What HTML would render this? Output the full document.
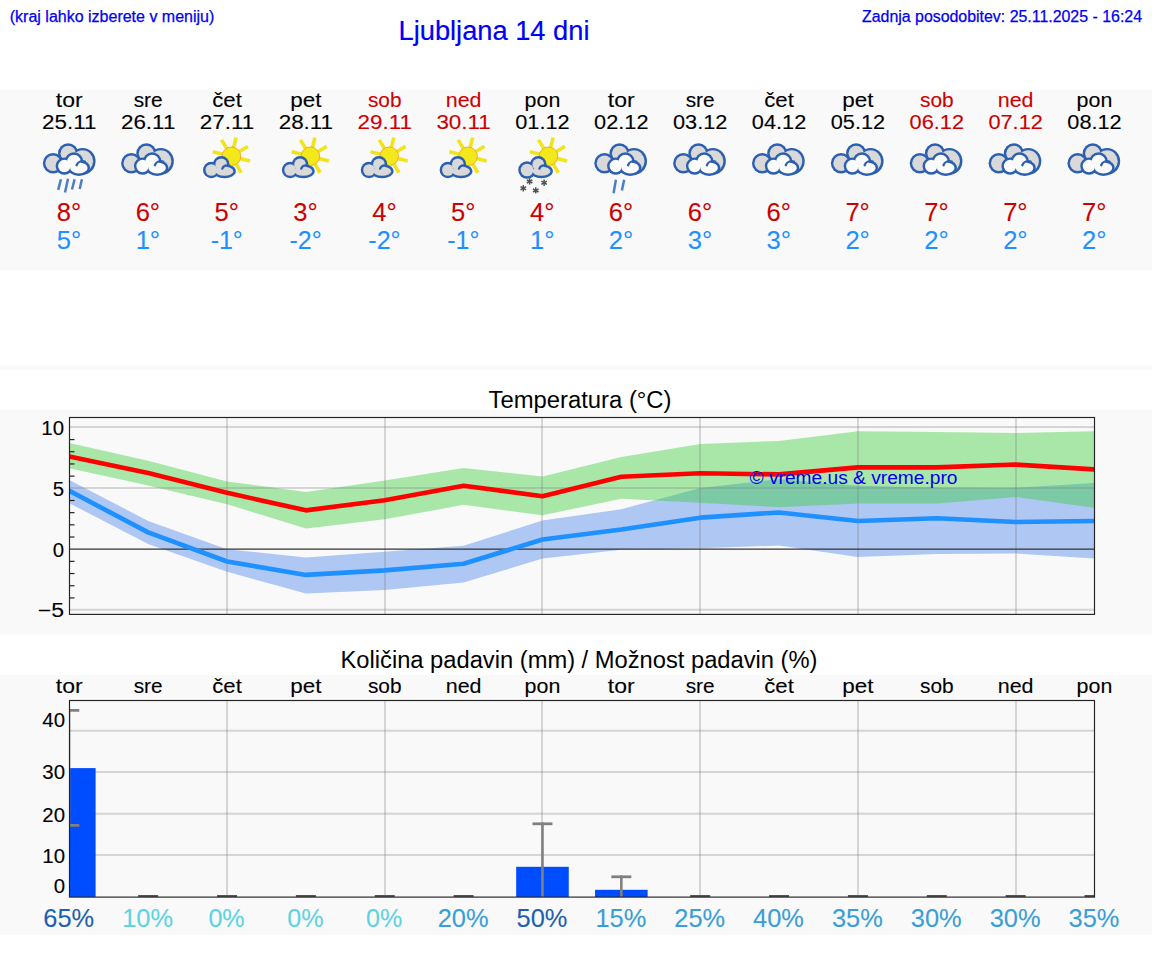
<!DOCTYPE html><html><head><meta charset="utf-8"><style>html,body{margin:0;padding:0;background:#fff;width:1152px;height:975px;overflow:hidden}svg{display:block;font-family:"Liberation Sans",sans-serif}</style></head><body>
<svg width="1152" height="975" viewBox="0 0 1152 975">
<defs>
<clipPath id="tc"><rect x="69.5" y="417.5" width="1024.5" height="196.5"/></clipPath>
<clipPath id="pc"><rect x="69.5" y="700.5" width="1024.5" height="196.5"/></clipPath>
</defs>
<rect x="0" y="90" width="1152" height="180" fill="#f9f9f9"/>
<rect x="0" y="365" width="1152" height="5" fill="#f9f9f9"/>
<rect x="0" y="410" width="1152" height="225" fill="#f9f9f9"/>
<rect x="0" y="675" width="1152" height="260" fill="#f9f9f9"/>
<text x="9.80" y="21.50" font-size="16" fill="#0000f5" stroke="#0000f5" stroke-width="0.25" text-anchor="start" textLength="204.50" lengthAdjust="spacingAndGlyphs">(kraj lahko izberete v meniju)</text>
<text x="398.50" y="39.60" font-size="27" fill="#0000f5" stroke="#0000f5" stroke-width="0.2" text-anchor="start" textLength="191.00" lengthAdjust="spacingAndGlyphs">Ljubljana 14 dni</text>
<text x="1142.00" y="22.00" font-size="16" fill="#0000f5" stroke="#0000f5" stroke-width="0.25" text-anchor="end" textLength="280.00" lengthAdjust="spacingAndGlyphs">Zadnja posodobitev: 25.11.2025 - 16:24</text>
<text x="69.30" y="107.00" font-size="19.57" fill="#000" stroke="#000" stroke-width="0.1" text-anchor="middle" textLength="26.89" lengthAdjust="spacingAndGlyphs">tor</text>
<text x="69.30" y="129.00" font-size="19.38" fill="#000" stroke="#000" stroke-width="0.1" text-anchor="middle" textLength="54.40" lengthAdjust="spacingAndGlyphs">25.11</text>
<text x="69.00" y="221.00" font-size="25.50" fill="#cc0000" stroke="#cc0000" stroke-width="0.1" text-anchor="middle" textLength="24.43" lengthAdjust="spacingAndGlyphs">8°</text>
<text x="69.00" y="249.00" font-size="25.50" fill="#1e90ff" stroke="#1e90ff" stroke-width="0.1" text-anchor="middle" textLength="24.43" lengthAdjust="spacingAndGlyphs">5°</text>
<text x="148.16" y="107.00" font-size="19.57" fill="#000" stroke="#000" stroke-width="0.1" text-anchor="middle" textLength="28.98" lengthAdjust="spacingAndGlyphs">sre</text>
<text x="148.16" y="129.00" font-size="19.38" fill="#000" stroke="#000" stroke-width="0.1" text-anchor="middle" textLength="54.40" lengthAdjust="spacingAndGlyphs">26.11</text>
<text x="147.86" y="221.00" font-size="25.50" fill="#cc0000" stroke="#cc0000" stroke-width="0.1" text-anchor="middle" textLength="24.43" lengthAdjust="spacingAndGlyphs">6°</text>
<text x="147.86" y="249.00" font-size="25.50" fill="#1e90ff" stroke="#1e90ff" stroke-width="0.1" text-anchor="middle" textLength="24.43" lengthAdjust="spacingAndGlyphs">1°</text>
<text x="227.02" y="107.00" font-size="19.57" fill="#000" stroke="#000" stroke-width="0.1" text-anchor="middle" textLength="29.59" lengthAdjust="spacingAndGlyphs">čet</text>
<text x="227.02" y="129.00" font-size="19.38" fill="#000" stroke="#000" stroke-width="0.1" text-anchor="middle" textLength="54.40" lengthAdjust="spacingAndGlyphs">27.11</text>
<text x="226.72" y="221.00" font-size="25.50" fill="#cc0000" stroke="#cc0000" stroke-width="0.1" text-anchor="middle" textLength="24.43" lengthAdjust="spacingAndGlyphs">5°</text>
<text x="226.72" y="249.00" font-size="25.50" fill="#1e90ff" stroke="#1e90ff" stroke-width="0.1" text-anchor="middle" textLength="32.19" lengthAdjust="spacingAndGlyphs">-1°</text>
<text x="305.88" y="107.00" font-size="19.57" fill="#000" stroke="#000" stroke-width="0.1" text-anchor="middle" textLength="31.20" lengthAdjust="spacingAndGlyphs">pet</text>
<text x="305.88" y="129.00" font-size="19.38" fill="#000" stroke="#000" stroke-width="0.1" text-anchor="middle" textLength="54.40" lengthAdjust="spacingAndGlyphs">28.11</text>
<text x="305.58" y="221.00" font-size="25.50" fill="#cc0000" stroke="#cc0000" stroke-width="0.1" text-anchor="middle" textLength="24.43" lengthAdjust="spacingAndGlyphs">3°</text>
<text x="305.58" y="249.00" font-size="25.50" fill="#1e90ff" stroke="#1e90ff" stroke-width="0.1" text-anchor="middle" textLength="32.19" lengthAdjust="spacingAndGlyphs">-2°</text>
<text x="384.75" y="107.00" font-size="19.57" fill="#cc0000" stroke="#cc0000" stroke-width="0.1" text-anchor="middle" textLength="33.58" lengthAdjust="spacingAndGlyphs">sob</text>
<text x="384.75" y="129.00" font-size="19.38" fill="#cc0000" stroke="#cc0000" stroke-width="0.1" text-anchor="middle" textLength="54.40" lengthAdjust="spacingAndGlyphs">29.11</text>
<text x="384.45" y="221.00" font-size="25.50" fill="#cc0000" stroke="#cc0000" stroke-width="0.1" text-anchor="middle" textLength="24.43" lengthAdjust="spacingAndGlyphs">4°</text>
<text x="384.45" y="249.00" font-size="25.50" fill="#1e90ff" stroke="#1e90ff" stroke-width="0.1" text-anchor="middle" textLength="32.19" lengthAdjust="spacingAndGlyphs">-2°</text>
<text x="463.61" y="107.00" font-size="19.57" fill="#cc0000" stroke="#cc0000" stroke-width="0.1" text-anchor="middle" textLength="35.79" lengthAdjust="spacingAndGlyphs">ned</text>
<text x="463.61" y="129.00" font-size="19.38" fill="#cc0000" stroke="#cc0000" stroke-width="0.1" text-anchor="middle" textLength="54.40" lengthAdjust="spacingAndGlyphs">30.11</text>
<text x="463.31" y="221.00" font-size="25.50" fill="#cc0000" stroke="#cc0000" stroke-width="0.1" text-anchor="middle" textLength="24.43" lengthAdjust="spacingAndGlyphs">5°</text>
<text x="463.31" y="249.00" font-size="25.50" fill="#1e90ff" stroke="#1e90ff" stroke-width="0.1" text-anchor="middle" textLength="32.19" lengthAdjust="spacingAndGlyphs">-1°</text>
<text x="542.47" y="107.00" font-size="19.57" fill="#000" stroke="#000" stroke-width="0.1" text-anchor="middle" textLength="35.73" lengthAdjust="spacingAndGlyphs">pon</text>
<text x="542.47" y="129.00" font-size="19.38" fill="#000" stroke="#000" stroke-width="0.1" text-anchor="middle" textLength="54.40" lengthAdjust="spacingAndGlyphs">01.12</text>
<text x="542.17" y="221.00" font-size="25.50" fill="#cc0000" stroke="#cc0000" stroke-width="0.1" text-anchor="middle" textLength="24.43" lengthAdjust="spacingAndGlyphs">4°</text>
<text x="542.17" y="249.00" font-size="25.50" fill="#1e90ff" stroke="#1e90ff" stroke-width="0.1" text-anchor="middle" textLength="24.43" lengthAdjust="spacingAndGlyphs">1°</text>
<text x="621.33" y="107.00" font-size="19.57" fill="#000" stroke="#000" stroke-width="0.1" text-anchor="middle" textLength="26.89" lengthAdjust="spacingAndGlyphs">tor</text>
<text x="621.33" y="129.00" font-size="19.38" fill="#000" stroke="#000" stroke-width="0.1" text-anchor="middle" textLength="54.40" lengthAdjust="spacingAndGlyphs">02.12</text>
<text x="621.03" y="221.00" font-size="25.50" fill="#cc0000" stroke="#cc0000" stroke-width="0.1" text-anchor="middle" textLength="24.43" lengthAdjust="spacingAndGlyphs">6°</text>
<text x="621.03" y="249.00" font-size="25.50" fill="#1e90ff" stroke="#1e90ff" stroke-width="0.1" text-anchor="middle" textLength="24.43" lengthAdjust="spacingAndGlyphs">2°</text>
<text x="700.19" y="107.00" font-size="19.57" fill="#000" stroke="#000" stroke-width="0.1" text-anchor="middle" textLength="28.98" lengthAdjust="spacingAndGlyphs">sre</text>
<text x="700.19" y="129.00" font-size="19.38" fill="#000" stroke="#000" stroke-width="0.1" text-anchor="middle" textLength="54.40" lengthAdjust="spacingAndGlyphs">03.12</text>
<text x="699.89" y="221.00" font-size="25.50" fill="#cc0000" stroke="#cc0000" stroke-width="0.1" text-anchor="middle" textLength="24.43" lengthAdjust="spacingAndGlyphs">6°</text>
<text x="699.89" y="249.00" font-size="25.50" fill="#1e90ff" stroke="#1e90ff" stroke-width="0.1" text-anchor="middle" textLength="24.43" lengthAdjust="spacingAndGlyphs">3°</text>
<text x="779.05" y="107.00" font-size="19.57" fill="#000" stroke="#000" stroke-width="0.1" text-anchor="middle" textLength="29.59" lengthAdjust="spacingAndGlyphs">čet</text>
<text x="779.05" y="129.00" font-size="19.38" fill="#000" stroke="#000" stroke-width="0.1" text-anchor="middle" textLength="54.40" lengthAdjust="spacingAndGlyphs">04.12</text>
<text x="778.75" y="221.00" font-size="25.50" fill="#cc0000" stroke="#cc0000" stroke-width="0.1" text-anchor="middle" textLength="24.43" lengthAdjust="spacingAndGlyphs">6°</text>
<text x="778.75" y="249.00" font-size="25.50" fill="#1e90ff" stroke="#1e90ff" stroke-width="0.1" text-anchor="middle" textLength="24.43" lengthAdjust="spacingAndGlyphs">3°</text>
<text x="857.92" y="107.00" font-size="19.57" fill="#000" stroke="#000" stroke-width="0.1" text-anchor="middle" textLength="31.20" lengthAdjust="spacingAndGlyphs">pet</text>
<text x="857.92" y="129.00" font-size="19.38" fill="#000" stroke="#000" stroke-width="0.1" text-anchor="middle" textLength="54.40" lengthAdjust="spacingAndGlyphs">05.12</text>
<text x="857.62" y="221.00" font-size="25.50" fill="#cc0000" stroke="#cc0000" stroke-width="0.1" text-anchor="middle" textLength="24.43" lengthAdjust="spacingAndGlyphs">7°</text>
<text x="857.62" y="249.00" font-size="25.50" fill="#1e90ff" stroke="#1e90ff" stroke-width="0.1" text-anchor="middle" textLength="24.43" lengthAdjust="spacingAndGlyphs">2°</text>
<text x="936.78" y="107.00" font-size="19.57" fill="#cc0000" stroke="#cc0000" stroke-width="0.1" text-anchor="middle" textLength="33.58" lengthAdjust="spacingAndGlyphs">sob</text>
<text x="936.78" y="129.00" font-size="19.38" fill="#cc0000" stroke="#cc0000" stroke-width="0.1" text-anchor="middle" textLength="54.40" lengthAdjust="spacingAndGlyphs">06.12</text>
<text x="936.48" y="221.00" font-size="25.50" fill="#cc0000" stroke="#cc0000" stroke-width="0.1" text-anchor="middle" textLength="24.43" lengthAdjust="spacingAndGlyphs">7°</text>
<text x="936.48" y="249.00" font-size="25.50" fill="#1e90ff" stroke="#1e90ff" stroke-width="0.1" text-anchor="middle" textLength="24.43" lengthAdjust="spacingAndGlyphs">2°</text>
<text x="1015.64" y="107.00" font-size="19.57" fill="#cc0000" stroke="#cc0000" stroke-width="0.1" text-anchor="middle" textLength="35.79" lengthAdjust="spacingAndGlyphs">ned</text>
<text x="1015.64" y="129.00" font-size="19.38" fill="#cc0000" stroke="#cc0000" stroke-width="0.1" text-anchor="middle" textLength="54.40" lengthAdjust="spacingAndGlyphs">07.12</text>
<text x="1015.34" y="221.00" font-size="25.50" fill="#cc0000" stroke="#cc0000" stroke-width="0.1" text-anchor="middle" textLength="24.43" lengthAdjust="spacingAndGlyphs">7°</text>
<text x="1015.34" y="249.00" font-size="25.50" fill="#1e90ff" stroke="#1e90ff" stroke-width="0.1" text-anchor="middle" textLength="24.43" lengthAdjust="spacingAndGlyphs">2°</text>
<text x="1094.50" y="107.00" font-size="19.57" fill="#000" stroke="#000" stroke-width="0.1" text-anchor="middle" textLength="35.73" lengthAdjust="spacingAndGlyphs">pon</text>
<text x="1094.50" y="129.00" font-size="19.38" fill="#000" stroke="#000" stroke-width="0.1" text-anchor="middle" textLength="54.40" lengthAdjust="spacingAndGlyphs">08.12</text>
<text x="1094.20" y="221.00" font-size="25.50" fill="#cc0000" stroke="#cc0000" stroke-width="0.1" text-anchor="middle" textLength="24.43" lengthAdjust="spacingAndGlyphs">7°</text>
<text x="1094.20" y="249.00" font-size="25.50" fill="#1e90ff" stroke="#1e90ff" stroke-width="0.1" text-anchor="middle" textLength="24.43" lengthAdjust="spacingAndGlyphs">2°</text>
<g transform="translate(-77.95,0)"><circle cx="131.00" cy="163.30" r="10.20" fill="#2c5fb0"/><circle cx="146.10" cy="153.30" r="10.10" fill="#2c5fb0"/><ellipse cx="160.50" cy="161.30" rx="13.00" ry="13.40" fill="#2c5fb0"/><circle cx="131.00" cy="163.30" r="7.75" fill="#d9d9d9"/><circle cx="146.10" cy="153.30" r="7.65" fill="#d9d9d9"/><ellipse cx="160.50" cy="161.30" rx="10.55" ry="10.95" fill="#d9d9d9"/><circle cx="142.30" cy="166.10" r="8.70" fill="#2c5fb0"/><circle cx="151.90" cy="161.50" r="9.30" fill="#2c5fb0"/><ellipse cx="156.80" cy="167.95" rx="11.20" ry="7.95" fill="#2c5fb0"/><circle cx="142.30" cy="166.10" r="6.25" fill="#fbfbfb"/><circle cx="151.90" cy="161.50" r="6.85" fill="#fbfbfb"/><ellipse cx="156.80" cy="167.95" rx="8.75" ry="5.50" fill="#fbfbfb"/><path d="M154.6,165.2 C155.6,161.8 159.2,160.6 162.8,161.6" fill="none" stroke="#2c5fb0" stroke-width="2.4" stroke-linecap="round"/></g>
<line x1="60.90" y1="179.2" x2="58.20" y2="189.9" stroke="#4b7fc4" stroke-width="2.5"/>
<line x1="68.00" y1="178.8" x2="65.00" y2="192.5" stroke="#4b7fc4" stroke-width="2.5"/>
<line x1="74.60" y1="179.2" x2="72.00" y2="189.5" stroke="#4b7fc4" stroke-width="2.5"/>
<line x1="81.90" y1="179.2" x2="79.70" y2="189" stroke="#4b7fc4" stroke-width="2.5"/>
<g transform="translate(0.31,0)"><circle cx="131.00" cy="163.30" r="10.20" fill="#2c5fb0"/><circle cx="146.10" cy="153.30" r="10.10" fill="#2c5fb0"/><ellipse cx="160.50" cy="161.30" rx="13.00" ry="13.40" fill="#2c5fb0"/><circle cx="131.00" cy="163.30" r="7.75" fill="#d9d9d9"/><circle cx="146.10" cy="153.30" r="7.65" fill="#d9d9d9"/><ellipse cx="160.50" cy="161.30" rx="10.55" ry="10.95" fill="#d9d9d9"/><circle cx="142.30" cy="166.10" r="8.70" fill="#2c5fb0"/><circle cx="151.90" cy="161.50" r="9.30" fill="#2c5fb0"/><ellipse cx="156.80" cy="167.95" rx="11.20" ry="7.95" fill="#2c5fb0"/><circle cx="142.30" cy="166.10" r="6.25" fill="#fbfbfb"/><circle cx="151.90" cy="161.50" r="6.85" fill="#fbfbfb"/><ellipse cx="156.80" cy="167.95" rx="8.75" ry="5.50" fill="#fbfbfb"/><path d="M154.6,165.2 C155.6,161.8 159.2,160.6 162.8,161.6" fill="none" stroke="#2c5fb0" stroke-width="2.4" stroke-linecap="round"/></g>
<g><line x1="233.31" y1="148.73" x2="236.07" y2="137.67" stroke="#f0e41c" stroke-width="3.6"/><line x1="238.11" y1="152.28" x2="247.88" y2="146.41" stroke="#f0e41c" stroke-width="3.6"/><line x1="238.99" y1="158.19" x2="250.05" y2="160.94" stroke="#f0e41c" stroke-width="3.6"/><line x1="235.44" y1="162.99" x2="241.31" y2="172.76" stroke="#f0e41c" stroke-width="3.6"/><line x1="229.54" y1="163.87" x2="226.78" y2="174.93" stroke="#f0e41c" stroke-width="3.6"/><line x1="224.74" y1="160.32" x2="214.97" y2="166.19" stroke="#f0e41c" stroke-width="3.6"/><line x1="223.85" y1="154.41" x2="212.79" y2="151.66" stroke="#f0e41c" stroke-width="3.6"/><line x1="227.41" y1="149.61" x2="221.53" y2="139.84" stroke="#f0e41c" stroke-width="3.6"/><circle cx="231.42" cy="156.3" r="9.3" fill="#f2e81a" stroke="#f5aa30" stroke-width="1"/><g transform="translate(0.32,0)"><circle cx="211.00" cy="170.00" r="8.30" fill="#2c5fb0"/><circle cx="220.90" cy="164.40" r="8.30" fill="#2c5fb0"/><ellipse cx="224.10" cy="171.20" rx="11.40" ry="7.00" fill="#2c5fb0"/><circle cx="211.00" cy="170.00" r="5.85" fill="#d9d9d9"/><circle cx="220.90" cy="164.40" r="5.85" fill="#d9d9d9"/><ellipse cx="224.10" cy="171.20" rx="8.95" ry="4.55" fill="#d9d9d9"/><path d="M222,168.6 C223,166.2 225.5,165 228.5,165.6" fill="none" stroke="#2c5fb0" stroke-width="2.3" stroke-linecap="round"/></g></g>
<g><line x1="312.17" y1="148.73" x2="314.93" y2="137.67" stroke="#f0e41c" stroke-width="3.6"/><line x1="316.97" y1="152.28" x2="326.74" y2="146.41" stroke="#f0e41c" stroke-width="3.6"/><line x1="317.85" y1="158.19" x2="328.91" y2="160.94" stroke="#f0e41c" stroke-width="3.6"/><line x1="314.30" y1="162.99" x2="320.17" y2="172.76" stroke="#f0e41c" stroke-width="3.6"/><line x1="308.40" y1="163.87" x2="305.64" y2="174.93" stroke="#f0e41c" stroke-width="3.6"/><line x1="303.60" y1="160.32" x2="293.83" y2="166.19" stroke="#f0e41c" stroke-width="3.6"/><line x1="302.72" y1="154.41" x2="291.65" y2="151.66" stroke="#f0e41c" stroke-width="3.6"/><line x1="306.27" y1="149.61" x2="300.40" y2="139.84" stroke="#f0e41c" stroke-width="3.6"/><circle cx="310.28" cy="156.3" r="9.3" fill="#f2e81a" stroke="#f5aa30" stroke-width="1"/><g transform="translate(79.18,0)"><circle cx="211.00" cy="170.00" r="8.30" fill="#2c5fb0"/><circle cx="220.90" cy="164.40" r="8.30" fill="#2c5fb0"/><ellipse cx="224.10" cy="171.20" rx="11.40" ry="7.00" fill="#2c5fb0"/><circle cx="211.00" cy="170.00" r="5.85" fill="#d9d9d9"/><circle cx="220.90" cy="164.40" r="5.85" fill="#d9d9d9"/><ellipse cx="224.10" cy="171.20" rx="8.95" ry="4.55" fill="#d9d9d9"/><path d="M222,168.6 C223,166.2 225.5,165 228.5,165.6" fill="none" stroke="#2c5fb0" stroke-width="2.3" stroke-linecap="round"/></g></g>
<g><line x1="391.03" y1="148.73" x2="393.79" y2="137.67" stroke="#f0e41c" stroke-width="3.6"/><line x1="395.83" y1="152.28" x2="405.60" y2="146.41" stroke="#f0e41c" stroke-width="3.6"/><line x1="396.71" y1="158.19" x2="407.78" y2="160.94" stroke="#f0e41c" stroke-width="3.6"/><line x1="393.16" y1="162.99" x2="399.03" y2="172.76" stroke="#f0e41c" stroke-width="3.6"/><line x1="387.26" y1="163.87" x2="384.50" y2="174.93" stroke="#f0e41c" stroke-width="3.6"/><line x1="382.46" y1="160.32" x2="372.69" y2="166.19" stroke="#f0e41c" stroke-width="3.6"/><line x1="381.58" y1="154.41" x2="370.52" y2="151.66" stroke="#f0e41c" stroke-width="3.6"/><line x1="385.13" y1="149.61" x2="379.26" y2="139.84" stroke="#f0e41c" stroke-width="3.6"/><circle cx="389.15" cy="156.3" r="9.3" fill="#f2e81a" stroke="#f5aa30" stroke-width="1"/><g transform="translate(158.05,0)"><circle cx="211.00" cy="170.00" r="8.30" fill="#2c5fb0"/><circle cx="220.90" cy="164.40" r="8.30" fill="#2c5fb0"/><ellipse cx="224.10" cy="171.20" rx="11.40" ry="7.00" fill="#2c5fb0"/><circle cx="211.00" cy="170.00" r="5.85" fill="#d9d9d9"/><circle cx="220.90" cy="164.40" r="5.85" fill="#d9d9d9"/><ellipse cx="224.10" cy="171.20" rx="8.95" ry="4.55" fill="#d9d9d9"/><path d="M222,168.6 C223,166.2 225.5,165 228.5,165.6" fill="none" stroke="#2c5fb0" stroke-width="2.3" stroke-linecap="round"/></g></g>
<g><line x1="469.89" y1="148.73" x2="472.65" y2="137.67" stroke="#f0e41c" stroke-width="3.6"/><line x1="474.69" y1="152.28" x2="484.47" y2="146.41" stroke="#f0e41c" stroke-width="3.6"/><line x1="475.58" y1="158.19" x2="486.64" y2="160.94" stroke="#f0e41c" stroke-width="3.6"/><line x1="472.02" y1="162.99" x2="477.90" y2="172.76" stroke="#f0e41c" stroke-width="3.6"/><line x1="466.12" y1="163.87" x2="463.36" y2="174.93" stroke="#f0e41c" stroke-width="3.6"/><line x1="461.32" y1="160.32" x2="451.55" y2="166.19" stroke="#f0e41c" stroke-width="3.6"/><line x1="460.44" y1="154.41" x2="449.38" y2="151.66" stroke="#f0e41c" stroke-width="3.6"/><line x1="463.99" y1="149.61" x2="458.12" y2="139.84" stroke="#f0e41c" stroke-width="3.6"/><circle cx="468.01" cy="156.3" r="9.3" fill="#f2e81a" stroke="#f5aa30" stroke-width="1"/><g transform="translate(236.91,0)"><circle cx="211.00" cy="170.00" r="8.30" fill="#2c5fb0"/><circle cx="220.90" cy="164.40" r="8.30" fill="#2c5fb0"/><ellipse cx="224.10" cy="171.20" rx="11.40" ry="7.00" fill="#2c5fb0"/><circle cx="211.00" cy="170.00" r="5.85" fill="#d9d9d9"/><circle cx="220.90" cy="164.40" r="5.85" fill="#d9d9d9"/><ellipse cx="224.10" cy="171.20" rx="8.95" ry="4.55" fill="#d9d9d9"/><path d="M222,168.6 C223,166.2 225.5,165 228.5,165.6" fill="none" stroke="#2c5fb0" stroke-width="2.3" stroke-linecap="round"/></g></g>
<g><line x1="550.36" y1="148.73" x2="553.11" y2="137.67" stroke="#f0e41c" stroke-width="3.6"/><line x1="555.16" y1="152.28" x2="564.93" y2="146.41" stroke="#f0e41c" stroke-width="3.6"/><line x1="556.04" y1="158.19" x2="567.10" y2="160.94" stroke="#f0e41c" stroke-width="3.6"/><line x1="552.49" y1="162.99" x2="558.36" y2="172.76" stroke="#f0e41c" stroke-width="3.6"/><line x1="546.58" y1="163.87" x2="543.82" y2="174.93" stroke="#f0e41c" stroke-width="3.6"/><line x1="541.78" y1="160.32" x2="532.01" y2="166.19" stroke="#f0e41c" stroke-width="3.6"/><line x1="540.90" y1="154.41" x2="529.84" y2="151.66" stroke="#f0e41c" stroke-width="3.6"/><line x1="544.45" y1="149.61" x2="538.58" y2="139.84" stroke="#f0e41c" stroke-width="3.6"/><circle cx="548.47" cy="156.3" r="9.3" fill="#f2e81a" stroke="#f5aa30" stroke-width="1"/><g transform="translate(317.37,0)"><circle cx="209.70" cy="170.00" r="8.82" fill="#2c5fb0"/><circle cx="220.90" cy="164.40" r="8.30" fill="#2c5fb0"/><ellipse cx="224.10" cy="171.20" rx="11.40" ry="7.00" fill="#2c5fb0"/><circle cx="209.70" cy="170.00" r="6.37" fill="#d9d9d9"/><circle cx="220.90" cy="164.40" r="5.85" fill="#d9d9d9"/><ellipse cx="224.10" cy="171.20" rx="8.95" ry="4.55" fill="#d9d9d9"/><path d="M222,168.6 C223,166.2 225.5,165 228.5,165.6" fill="none" stroke="#2c5fb0" stroke-width="2.3" stroke-linecap="round"/></g></g>
<line x1="529.57" y1="178.20" x2="529.57" y2="184.60" stroke="#505050" stroke-width="1.5"/><line x1="526.80" y1="179.80" x2="532.34" y2="183.00" stroke="#505050" stroke-width="1.5"/><line x1="532.34" y1="179.80" x2="526.80" y2="183.00" stroke="#505050" stroke-width="1.5"/>
<line x1="544.12" y1="179.60" x2="544.12" y2="186.00" stroke="#505050" stroke-width="1.5"/><line x1="541.35" y1="181.20" x2="546.89" y2="184.40" stroke="#505050" stroke-width="1.5"/><line x1="546.89" y1="181.20" x2="541.35" y2="184.40" stroke="#505050" stroke-width="1.5"/>
<line x1="523.27" y1="185.10" x2="523.27" y2="191.50" stroke="#505050" stroke-width="1.5"/><line x1="520.50" y1="186.70" x2="526.04" y2="189.90" stroke="#505050" stroke-width="1.5"/><line x1="526.04" y1="186.70" x2="520.50" y2="189.90" stroke="#505050" stroke-width="1.5"/>
<line x1="535.77" y1="187.20" x2="535.77" y2="193.60" stroke="#505050" stroke-width="1.5"/><line x1="533.00" y1="188.80" x2="538.54" y2="192.00" stroke="#505050" stroke-width="1.5"/><line x1="538.54" y1="188.80" x2="533.00" y2="192.00" stroke="#505050" stroke-width="1.5"/>
<g transform="translate(473.48,0)"><circle cx="131.00" cy="163.30" r="10.20" fill="#2c5fb0"/><circle cx="146.10" cy="153.30" r="10.10" fill="#2c5fb0"/><ellipse cx="160.50" cy="161.30" rx="13.00" ry="13.40" fill="#2c5fb0"/><circle cx="131.00" cy="163.30" r="7.75" fill="#d9d9d9"/><circle cx="146.10" cy="153.30" r="7.65" fill="#d9d9d9"/><ellipse cx="160.50" cy="161.30" rx="10.55" ry="10.95" fill="#d9d9d9"/><circle cx="142.30" cy="166.10" r="8.70" fill="#2c5fb0"/><circle cx="151.90" cy="161.50" r="9.30" fill="#2c5fb0"/><ellipse cx="156.80" cy="167.95" rx="11.20" ry="7.95" fill="#2c5fb0"/><circle cx="142.30" cy="166.10" r="6.25" fill="#fbfbfb"/><circle cx="151.90" cy="161.50" r="6.85" fill="#fbfbfb"/><ellipse cx="156.80" cy="167.95" rx="8.75" ry="5.50" fill="#fbfbfb"/><path d="M154.6,165.2 C155.6,161.8 159.2,160.6 162.8,161.6" fill="none" stroke="#2c5fb0" stroke-width="2.4" stroke-linecap="round"/></g>
<line x1="615.88" y1="179.8" x2="613.58" y2="193.2" stroke="#4b7fc4" stroke-width="2.5"/>
<line x1="624.18" y1="179.8" x2="621.88" y2="190.4" stroke="#4b7fc4" stroke-width="2.5"/>
<g transform="translate(552.34,0)"><circle cx="131.00" cy="163.30" r="10.20" fill="#2c5fb0"/><circle cx="146.10" cy="153.30" r="10.10" fill="#2c5fb0"/><ellipse cx="160.50" cy="161.30" rx="13.00" ry="13.40" fill="#2c5fb0"/><circle cx="131.00" cy="163.30" r="7.75" fill="#d9d9d9"/><circle cx="146.10" cy="153.30" r="7.65" fill="#d9d9d9"/><ellipse cx="160.50" cy="161.30" rx="10.55" ry="10.95" fill="#d9d9d9"/><circle cx="142.30" cy="166.10" r="8.70" fill="#2c5fb0"/><circle cx="151.90" cy="161.50" r="9.30" fill="#2c5fb0"/><ellipse cx="156.80" cy="167.95" rx="11.20" ry="7.95" fill="#2c5fb0"/><circle cx="142.30" cy="166.10" r="6.25" fill="#fbfbfb"/><circle cx="151.90" cy="161.50" r="6.85" fill="#fbfbfb"/><ellipse cx="156.80" cy="167.95" rx="8.75" ry="5.50" fill="#fbfbfb"/><path d="M154.6,165.2 C155.6,161.8 159.2,160.6 162.8,161.6" fill="none" stroke="#2c5fb0" stroke-width="2.4" stroke-linecap="round"/></g>
<g transform="translate(631.20,0)"><circle cx="131.00" cy="163.30" r="10.20" fill="#2c5fb0"/><circle cx="146.10" cy="153.30" r="10.10" fill="#2c5fb0"/><ellipse cx="160.50" cy="161.30" rx="13.00" ry="13.40" fill="#2c5fb0"/><circle cx="131.00" cy="163.30" r="7.75" fill="#d9d9d9"/><circle cx="146.10" cy="153.30" r="7.65" fill="#d9d9d9"/><ellipse cx="160.50" cy="161.30" rx="10.55" ry="10.95" fill="#d9d9d9"/><circle cx="142.30" cy="166.10" r="8.70" fill="#2c5fb0"/><circle cx="151.90" cy="161.50" r="9.30" fill="#2c5fb0"/><ellipse cx="156.80" cy="167.95" rx="11.20" ry="7.95" fill="#2c5fb0"/><circle cx="142.30" cy="166.10" r="6.25" fill="#fbfbfb"/><circle cx="151.90" cy="161.50" r="6.85" fill="#fbfbfb"/><ellipse cx="156.80" cy="167.95" rx="8.75" ry="5.50" fill="#fbfbfb"/><path d="M154.6,165.2 C155.6,161.8 159.2,160.6 162.8,161.6" fill="none" stroke="#2c5fb0" stroke-width="2.4" stroke-linecap="round"/></g>
<g transform="translate(710.07,0)"><circle cx="131.00" cy="163.30" r="10.20" fill="#2c5fb0"/><circle cx="146.10" cy="153.30" r="10.10" fill="#2c5fb0"/><ellipse cx="160.50" cy="161.30" rx="13.00" ry="13.40" fill="#2c5fb0"/><circle cx="131.00" cy="163.30" r="7.75" fill="#d9d9d9"/><circle cx="146.10" cy="153.30" r="7.65" fill="#d9d9d9"/><ellipse cx="160.50" cy="161.30" rx="10.55" ry="10.95" fill="#d9d9d9"/><circle cx="142.30" cy="166.10" r="8.70" fill="#2c5fb0"/><circle cx="151.90" cy="161.50" r="9.30" fill="#2c5fb0"/><ellipse cx="156.80" cy="167.95" rx="11.20" ry="7.95" fill="#2c5fb0"/><circle cx="142.30" cy="166.10" r="6.25" fill="#fbfbfb"/><circle cx="151.90" cy="161.50" r="6.85" fill="#fbfbfb"/><ellipse cx="156.80" cy="167.95" rx="8.75" ry="5.50" fill="#fbfbfb"/><path d="M154.6,165.2 C155.6,161.8 159.2,160.6 162.8,161.6" fill="none" stroke="#2c5fb0" stroke-width="2.4" stroke-linecap="round"/></g>
<g transform="translate(788.93,0)"><circle cx="131.00" cy="163.30" r="10.20" fill="#2c5fb0"/><circle cx="146.10" cy="153.30" r="10.10" fill="#2c5fb0"/><ellipse cx="160.50" cy="161.30" rx="13.00" ry="13.40" fill="#2c5fb0"/><circle cx="131.00" cy="163.30" r="7.75" fill="#d9d9d9"/><circle cx="146.10" cy="153.30" r="7.65" fill="#d9d9d9"/><ellipse cx="160.50" cy="161.30" rx="10.55" ry="10.95" fill="#d9d9d9"/><circle cx="142.30" cy="166.10" r="8.70" fill="#2c5fb0"/><circle cx="151.90" cy="161.50" r="9.30" fill="#2c5fb0"/><ellipse cx="156.80" cy="167.95" rx="11.20" ry="7.95" fill="#2c5fb0"/><circle cx="142.30" cy="166.10" r="6.25" fill="#fbfbfb"/><circle cx="151.90" cy="161.50" r="6.85" fill="#fbfbfb"/><ellipse cx="156.80" cy="167.95" rx="8.75" ry="5.50" fill="#fbfbfb"/><path d="M154.6,165.2 C155.6,161.8 159.2,160.6 162.8,161.6" fill="none" stroke="#2c5fb0" stroke-width="2.4" stroke-linecap="round"/></g>
<g transform="translate(867.79,0)"><circle cx="131.00" cy="163.30" r="10.20" fill="#2c5fb0"/><circle cx="146.10" cy="153.30" r="10.10" fill="#2c5fb0"/><ellipse cx="160.50" cy="161.30" rx="13.00" ry="13.40" fill="#2c5fb0"/><circle cx="131.00" cy="163.30" r="7.75" fill="#d9d9d9"/><circle cx="146.10" cy="153.30" r="7.65" fill="#d9d9d9"/><ellipse cx="160.50" cy="161.30" rx="10.55" ry="10.95" fill="#d9d9d9"/><circle cx="142.30" cy="166.10" r="8.70" fill="#2c5fb0"/><circle cx="151.90" cy="161.50" r="9.30" fill="#2c5fb0"/><ellipse cx="156.80" cy="167.95" rx="11.20" ry="7.95" fill="#2c5fb0"/><circle cx="142.30" cy="166.10" r="6.25" fill="#fbfbfb"/><circle cx="151.90" cy="161.50" r="6.85" fill="#fbfbfb"/><ellipse cx="156.80" cy="167.95" rx="8.75" ry="5.50" fill="#fbfbfb"/><path d="M154.6,165.2 C155.6,161.8 159.2,160.6 162.8,161.6" fill="none" stroke="#2c5fb0" stroke-width="2.4" stroke-linecap="round"/></g>
<g transform="translate(946.65,0)"><circle cx="131.00" cy="163.30" r="10.20" fill="#2c5fb0"/><circle cx="146.10" cy="153.30" r="10.10" fill="#2c5fb0"/><ellipse cx="160.50" cy="161.30" rx="13.00" ry="13.40" fill="#2c5fb0"/><circle cx="131.00" cy="163.30" r="7.75" fill="#d9d9d9"/><circle cx="146.10" cy="153.30" r="7.65" fill="#d9d9d9"/><ellipse cx="160.50" cy="161.30" rx="10.55" ry="10.95" fill="#d9d9d9"/><circle cx="142.30" cy="166.10" r="8.70" fill="#2c5fb0"/><circle cx="151.90" cy="161.50" r="9.30" fill="#2c5fb0"/><ellipse cx="156.80" cy="167.95" rx="11.20" ry="7.95" fill="#2c5fb0"/><circle cx="142.30" cy="166.10" r="6.25" fill="#fbfbfb"/><circle cx="151.90" cy="161.50" r="6.85" fill="#fbfbfb"/><ellipse cx="156.80" cy="167.95" rx="8.75" ry="5.50" fill="#fbfbfb"/><path d="M154.6,165.2 C155.6,161.8 159.2,160.6 162.8,161.6" fill="none" stroke="#2c5fb0" stroke-width="2.4" stroke-linecap="round"/></g>
<text x="488.50" y="407.80" font-size="23" fill="#000" text-anchor="start" textLength="183.00" lengthAdjust="spacingAndGlyphs">Temperatura (°C)</text>
<g clip-path="url(#tc)">
<path d="M69.30,479.90 L148.16,520.94 L227.02,549.20 L305.88,557.48 L384.75,551.64 L463.61,545.67 L542.47,520.58 L621.33,509.37 L700.19,488.06 L779.05,479.17 L857.92,485.86 L936.78,487.57 L1015.64,487.69 L1094.50,482.94 L1094.50,558.46 L1015.64,553.46 L936.78,554.07 L857.92,557.12 L779.05,545.55 L700.19,548.23 L621.33,549.81 L542.47,558.58 L463.61,582.57 L384.75,590.00 L305.88,593.54 L227.02,571.85 L148.16,544.08 L69.30,503.16Z" fill="rgb(100,149,237)" fill-opacity="0.5"/>
<path d="M69.30,442.99 L148.16,460.65 L227.02,481.48 L305.88,491.95 L384.75,480.50 L463.61,467.96 L542.47,476.61 L621.33,457.00 L700.19,444.09 L779.05,440.92 L857.92,431.30 L936.78,431.91 L1015.64,433.00 L1094.50,431.30 L1094.50,507.91 L1015.64,496.95 L936.78,503.53 L857.92,503.53 L779.05,507.18 L700.19,502.79 L621.33,498.77 L542.47,515.34 L463.61,504.86 L384.75,519.36 L305.88,528.62 L227.02,504.13 L148.16,485.62 L69.30,468.20Z" fill="rgb(50,205,50)" fill-opacity="0.4"/>
<line x1="69" y1="427.00" x2="1094" y2="427.00" stroke="#808080" stroke-opacity="0.3" stroke-width="2"/>
<line x1="69" y1="487.90" x2="1094" y2="487.90" stroke="#808080" stroke-opacity="0.3" stroke-width="2"/>
<line x1="69" y1="609.70" x2="1094" y2="609.70" stroke="#808080" stroke-opacity="0.3" stroke-width="2"/>
<line x1="227" y1="417" x2="227" y2="614" stroke="#808080" stroke-opacity="0.3" stroke-width="2"/>
<line x1="385" y1="417" x2="385" y2="614" stroke="#808080" stroke-opacity="0.3" stroke-width="2"/>
<line x1="542" y1="417" x2="542" y2="614" stroke="#808080" stroke-opacity="0.3" stroke-width="2"/>
<line x1="700" y1="417" x2="700" y2="614" stroke="#808080" stroke-opacity="0.3" stroke-width="2"/>
<line x1="858" y1="417" x2="858" y2="614" stroke="#808080" stroke-opacity="0.3" stroke-width="2"/>
<line x1="1016" y1="417" x2="1016" y2="614" stroke="#808080" stroke-opacity="0.3" stroke-width="2"/>
<line x1="69" y1="549.20" x2="1094" y2="549.20" stroke="#333" stroke-width="1.3"/>
<path d="M69.30,456.51 L148.16,472.95 L227.02,492.81 L305.88,510.35 L384.75,500.24 L463.61,485.74 L542.47,496.22 L621.33,476.73 L700.19,473.20 L779.05,474.41 L857.92,467.35 L936.78,467.35 L1015.64,464.55 L1094.50,469.42" fill="none" stroke="#ff0000" stroke-width="4.6" stroke-linejoin="round"/>
<path d="M69.30,490.86 L148.16,532.39 L227.02,561.50 L305.88,574.90 L384.75,570.39 L463.61,563.82 L542.47,539.46 L621.33,529.47 L700.19,517.65 L779.05,512.42 L857.92,520.94 L936.78,518.26 L1015.64,522.04 L1094.50,520.94" fill="none" stroke="#1e90ff" stroke-width="4.6" stroke-linejoin="round"/>
</g>
<line x1="69" y1="597.92" x2="74.5" y2="597.92" stroke="#222" stroke-width="1.2"/>
<line x1="69" y1="585.74" x2="74.5" y2="585.74" stroke="#222" stroke-width="1.2"/>
<line x1="69" y1="573.56" x2="74.5" y2="573.56" stroke="#222" stroke-width="1.2"/>
<line x1="69" y1="561.38" x2="74.5" y2="561.38" stroke="#222" stroke-width="1.2"/>
<line x1="69" y1="537.02" x2="74.5" y2="537.02" stroke="#222" stroke-width="1.2"/>
<line x1="69" y1="524.84" x2="74.5" y2="524.84" stroke="#222" stroke-width="1.2"/>
<line x1="69" y1="512.66" x2="74.5" y2="512.66" stroke="#222" stroke-width="1.2"/>
<line x1="69" y1="500.48" x2="74.5" y2="500.48" stroke="#222" stroke-width="1.2"/>
<line x1="69" y1="476.12" x2="74.5" y2="476.12" stroke="#222" stroke-width="1.2"/>
<line x1="69" y1="463.94" x2="74.5" y2="463.94" stroke="#222" stroke-width="1.2"/>
<line x1="69" y1="451.76" x2="74.5" y2="451.76" stroke="#222" stroke-width="1.2"/>
<line x1="69" y1="439.58" x2="74.5" y2="439.58" stroke="#222" stroke-width="1.2"/>
<rect x="69.5" y="417.5" width="1025" height="196.9" fill="none" stroke="#222" stroke-width="1.15"/>
<text x="64.10" y="435.10" font-size="19.38" fill="#000" stroke="#000" stroke-width="0.1" text-anchor="end" textLength="22.73" lengthAdjust="spacingAndGlyphs">10</text>
<text x="64.10" y="496.00" font-size="19.38" fill="#000" stroke="#000" stroke-width="0.1" text-anchor="end" textLength="11.36" lengthAdjust="spacingAndGlyphs">5</text>
<text x="64.10" y="556.90" font-size="19.38" fill="#000" stroke="#000" stroke-width="0.1" text-anchor="end" textLength="11.36" lengthAdjust="spacingAndGlyphs">0</text>
<text x="64.10" y="616.80" font-size="19.38" fill="#000" stroke="#000" stroke-width="0.1" text-anchor="end" textLength="26.33" lengthAdjust="spacingAndGlyphs">−5</text>
<text x="749.50" y="483.60" font-size="18" fill="#0000ee" text-anchor="start" textLength="208.00" lengthAdjust="spacingAndGlyphs">© vreme.us &amp; vreme.pro</text>
<text x="340.50" y="667.80" font-size="23" fill="#000" text-anchor="start" textLength="477.00" lengthAdjust="spacingAndGlyphs">Količina padavin (mm) / Možnost padavin (%)</text>
<text x="69.30" y="692.80" font-size="19.57" fill="#000" stroke="#000" stroke-width="0.1" text-anchor="middle" textLength="26.89" lengthAdjust="spacingAndGlyphs">tor</text>
<text x="148.16" y="692.80" font-size="19.57" fill="#000" stroke="#000" stroke-width="0.1" text-anchor="middle" textLength="28.98" lengthAdjust="spacingAndGlyphs">sre</text>
<text x="227.02" y="692.80" font-size="19.57" fill="#000" stroke="#000" stroke-width="0.1" text-anchor="middle" textLength="29.59" lengthAdjust="spacingAndGlyphs">čet</text>
<text x="305.88" y="692.80" font-size="19.57" fill="#000" stroke="#000" stroke-width="0.1" text-anchor="middle" textLength="31.20" lengthAdjust="spacingAndGlyphs">pet</text>
<text x="384.75" y="692.80" font-size="19.57" fill="#000" stroke="#000" stroke-width="0.1" text-anchor="middle" textLength="33.58" lengthAdjust="spacingAndGlyphs">sob</text>
<text x="463.61" y="692.80" font-size="19.57" fill="#000" stroke="#000" stroke-width="0.1" text-anchor="middle" textLength="35.79" lengthAdjust="spacingAndGlyphs">ned</text>
<text x="542.47" y="692.80" font-size="19.57" fill="#000" stroke="#000" stroke-width="0.1" text-anchor="middle" textLength="35.73" lengthAdjust="spacingAndGlyphs">pon</text>
<text x="621.33" y="692.80" font-size="19.57" fill="#000" stroke="#000" stroke-width="0.1" text-anchor="middle" textLength="26.89" lengthAdjust="spacingAndGlyphs">tor</text>
<text x="700.19" y="692.80" font-size="19.57" fill="#000" stroke="#000" stroke-width="0.1" text-anchor="middle" textLength="28.98" lengthAdjust="spacingAndGlyphs">sre</text>
<text x="779.05" y="692.80" font-size="19.57" fill="#000" stroke="#000" stroke-width="0.1" text-anchor="middle" textLength="29.59" lengthAdjust="spacingAndGlyphs">čet</text>
<text x="857.92" y="692.80" font-size="19.57" fill="#000" stroke="#000" stroke-width="0.1" text-anchor="middle" textLength="31.20" lengthAdjust="spacingAndGlyphs">pet</text>
<text x="936.78" y="692.80" font-size="19.57" fill="#000" stroke="#000" stroke-width="0.1" text-anchor="middle" textLength="33.58" lengthAdjust="spacingAndGlyphs">sob</text>
<text x="1015.64" y="692.80" font-size="19.57" fill="#000" stroke="#000" stroke-width="0.1" text-anchor="middle" textLength="35.79" lengthAdjust="spacingAndGlyphs">ned</text>
<text x="1094.50" y="692.80" font-size="19.57" fill="#000" stroke="#000" stroke-width="0.1" text-anchor="middle" textLength="35.73" lengthAdjust="spacingAndGlyphs">pon</text>
<g clip-path="url(#pc)">
<line x1="69" y1="730.8" x2="1094" y2="730.8" stroke="#808080" stroke-opacity="0.3" stroke-width="2"/>
<line x1="69" y1="772.0" x2="1094" y2="772.0" stroke="#808080" stroke-opacity="0.3" stroke-width="2"/>
<line x1="69" y1="813.7" x2="1094" y2="813.7" stroke="#808080" stroke-opacity="0.3" stroke-width="2"/>
<line x1="69" y1="855.0" x2="1094" y2="855.0" stroke="#808080" stroke-opacity="0.3" stroke-width="2"/>
<line x1="227" y1="700" x2="227" y2="897" stroke="#808080" stroke-opacity="0.3" stroke-width="2"/>
<line x1="385" y1="700" x2="385" y2="897" stroke="#808080" stroke-opacity="0.3" stroke-width="2"/>
<line x1="542" y1="700" x2="542" y2="897" stroke="#808080" stroke-opacity="0.3" stroke-width="2"/>
<line x1="700" y1="700" x2="700" y2="897" stroke="#808080" stroke-opacity="0.3" stroke-width="2"/>
<line x1="858" y1="700" x2="858" y2="897" stroke="#808080" stroke-opacity="0.3" stroke-width="2"/>
<line x1="1016" y1="700" x2="1016" y2="897" stroke="#808080" stroke-opacity="0.3" stroke-width="2"/>
<rect x="43.00" y="768.1" width="52.6" height="128.90" fill="#004cff"/>
<rect x="516.17" y="866.8" width="52.6" height="30.20" fill="#004cff"/>
<rect x="595.03" y="889.8" width="52.6" height="7.20" fill="#004cff"/>
<line x1="69.00" y1="709.0" x2="69.00" y2="825.4" stroke="#808080" stroke-width="2.6"/>
<line x1="59.30" y1="710.3" x2="79.30" y2="710.3" stroke="#808080" stroke-width="2.8"/>
<line x1="59.30" y1="825.4" x2="79.30" y2="825.4" stroke="#808080" stroke-width="2.8"/>
<line x1="542.47" y1="822.5" x2="542.47" y2="897" stroke="#808080" stroke-width="2.6"/>
<line x1="532.47" y1="823.8" x2="552.47" y2="823.8" stroke="#808080" stroke-width="2.8"/>
<line x1="621.33" y1="875.5" x2="621.33" y2="897" stroke="#808080" stroke-width="2.6"/>
<line x1="611.33" y1="876.8" x2="631.33" y2="876.8" stroke="#808080" stroke-width="2.8"/>
<line x1="138.16" y1="896" x2="158.16" y2="896" stroke="#555" stroke-width="2"/>
<line x1="217.02" y1="896" x2="237.02" y2="896" stroke="#555" stroke-width="2"/>
<line x1="295.88" y1="896" x2="315.88" y2="896" stroke="#555" stroke-width="2"/>
<line x1="374.75" y1="896" x2="394.75" y2="896" stroke="#555" stroke-width="2"/>
<line x1="453.61" y1="896" x2="473.61" y2="896" stroke="#555" stroke-width="2"/>
<line x1="690.19" y1="896" x2="710.19" y2="896" stroke="#555" stroke-width="2"/>
<line x1="769.05" y1="896" x2="789.05" y2="896" stroke="#555" stroke-width="2"/>
<line x1="847.92" y1="896" x2="867.92" y2="896" stroke="#555" stroke-width="2"/>
<line x1="926.78" y1="896" x2="946.78" y2="896" stroke="#555" stroke-width="2"/>
<line x1="1005.64" y1="896" x2="1025.64" y2="896" stroke="#555" stroke-width="2"/>
<line x1="1084.50" y1="896" x2="1104.50" y2="896" stroke="#555" stroke-width="2"/>
</g>
<rect x="69.5" y="700.5" width="1025" height="196.6" fill="none" stroke="#222" stroke-width="1.15"/>
<text x="65.10" y="727.00" font-size="19.38" fill="#000" stroke="#000" stroke-width="0.1" text-anchor="end" textLength="22.73" lengthAdjust="spacingAndGlyphs">40</text>
<text x="65.10" y="779.40" font-size="19.38" fill="#000" stroke="#000" stroke-width="0.1" text-anchor="end" textLength="22.73" lengthAdjust="spacingAndGlyphs">30</text>
<text x="65.10" y="821.80" font-size="19.38" fill="#000" stroke="#000" stroke-width="0.1" text-anchor="end" textLength="22.73" lengthAdjust="spacingAndGlyphs">20</text>
<text x="65.10" y="862.50" font-size="19.38" fill="#000" stroke="#000" stroke-width="0.1" text-anchor="end" textLength="22.73" lengthAdjust="spacingAndGlyphs">10</text>
<text x="65.10" y="892.70" font-size="19.38" fill="#000" stroke="#000" stroke-width="0.1" text-anchor="end" textLength="11.36" lengthAdjust="spacingAndGlyphs">0</text>
<text x="68.80" y="927.00" font-size="25.00" fill="#1f5fb0" stroke="#1f5fb0" stroke-width="0.1" text-anchor="middle" textLength="50.84" lengthAdjust="spacingAndGlyphs">65%</text>
<text x="147.66" y="927.00" font-size="25.00" fill="#5ed3e0" stroke="#5ed3e0" stroke-width="0.1" text-anchor="middle" textLength="50.84" lengthAdjust="spacingAndGlyphs">10%</text>
<text x="226.52" y="927.00" font-size="25.00" fill="#5ed3e0" stroke="#5ed3e0" stroke-width="0.1" text-anchor="middle" textLength="36.29" lengthAdjust="spacingAndGlyphs">0%</text>
<text x="305.38" y="927.00" font-size="25.00" fill="#5ed3e0" stroke="#5ed3e0" stroke-width="0.1" text-anchor="middle" textLength="36.29" lengthAdjust="spacingAndGlyphs">0%</text>
<text x="384.25" y="927.00" font-size="25.00" fill="#5ed3e0" stroke="#5ed3e0" stroke-width="0.1" text-anchor="middle" textLength="36.29" lengthAdjust="spacingAndGlyphs">0%</text>
<text x="463.11" y="927.00" font-size="25.00" fill="#3a9ed6" stroke="#3a9ed6" stroke-width="0.1" text-anchor="middle" textLength="50.84" lengthAdjust="spacingAndGlyphs">20%</text>
<text x="541.97" y="927.00" font-size="25.00" fill="#1f5fb0" stroke="#1f5fb0" stroke-width="0.1" text-anchor="middle" textLength="50.84" lengthAdjust="spacingAndGlyphs">50%</text>
<text x="620.83" y="927.00" font-size="25.00" fill="#3a9ed6" stroke="#3a9ed6" stroke-width="0.1" text-anchor="middle" textLength="50.84" lengthAdjust="spacingAndGlyphs">15%</text>
<text x="699.69" y="927.00" font-size="25.00" fill="#3a9ed6" stroke="#3a9ed6" stroke-width="0.1" text-anchor="middle" textLength="50.84" lengthAdjust="spacingAndGlyphs">25%</text>
<text x="778.55" y="927.00" font-size="25.00" fill="#3a9ed6" stroke="#3a9ed6" stroke-width="0.1" text-anchor="middle" textLength="50.84" lengthAdjust="spacingAndGlyphs">40%</text>
<text x="857.42" y="927.00" font-size="25.00" fill="#3a9ed6" stroke="#3a9ed6" stroke-width="0.1" text-anchor="middle" textLength="50.84" lengthAdjust="spacingAndGlyphs">35%</text>
<text x="936.28" y="927.00" font-size="25.00" fill="#3a9ed6" stroke="#3a9ed6" stroke-width="0.1" text-anchor="middle" textLength="50.84" lengthAdjust="spacingAndGlyphs">30%</text>
<text x="1015.14" y="927.00" font-size="25.00" fill="#3a9ed6" stroke="#3a9ed6" stroke-width="0.1" text-anchor="middle" textLength="50.84" lengthAdjust="spacingAndGlyphs">30%</text>
<text x="1094.00" y="927.00" font-size="25.00" fill="#3a9ed6" stroke="#3a9ed6" stroke-width="0.1" text-anchor="middle" textLength="50.84" lengthAdjust="spacingAndGlyphs">35%</text>
</svg></body></html>
